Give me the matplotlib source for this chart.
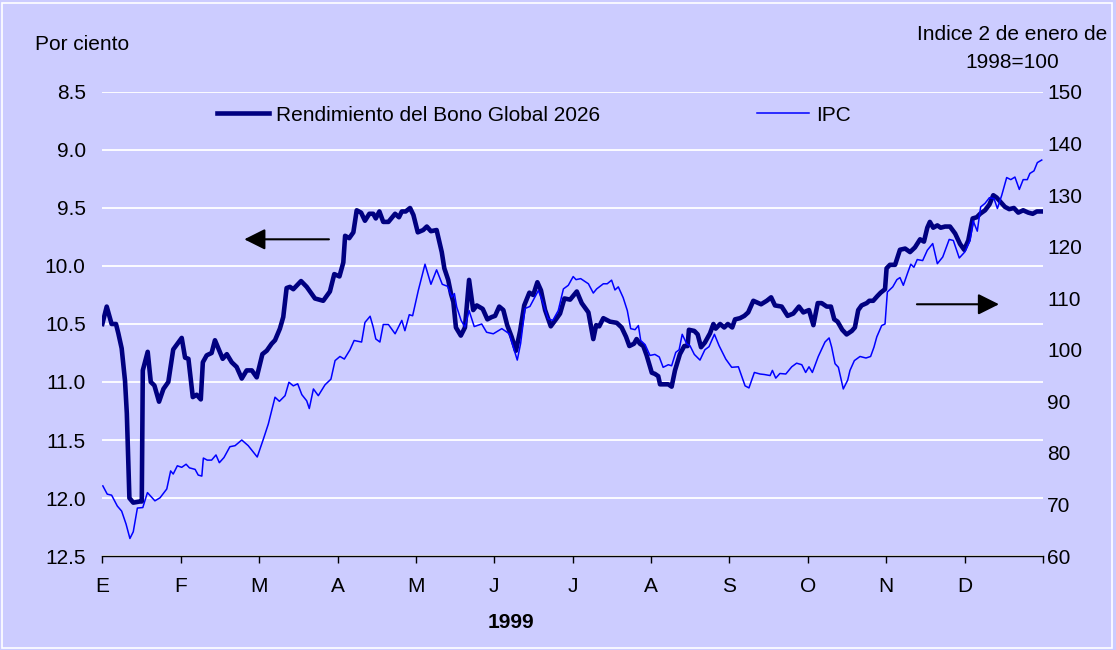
import numpy as np
import matplotlib
matplotlib.use("Agg")
import matplotlib.pyplot as plt
from matplotlib.patches import Rectangle

plt.rcParams['font.family'] = ['Liberation Sans', 'DejaVu Sans']

# day of year 1999 (0 = 1 Jan) and yield of the 2026 global bond, per cent
bono_dias = [0, 1.7, 3.6, 5.3, 6.2, 7.5, 8.8, 9.5, 10.5, 12.0, 14.6, 15.3, 15.7, 17.6,
             18.8, 20.2, 22.0, 23.7, 25.6, 26.5, 27.5, 30.8, 32.1, 33.4, 35.1, 36.6,
             38.2, 39.0, 40.5, 42.4, 43.7, 46.7, 48.3, 50.2, 52.1, 54.1, 56.0, 58.0,
             59.9, 62.1, 63.8, 65.7, 67.0, 68.9, 70.2, 71.5, 72.8, 74.1, 77.1, 79.3,
             82.5, 85.7, 88.3, 90.0, 92.0, 93.5, 94.2, 95.8, 97.4, 98.7, 100.4, 101.9,
             103.6, 105.1, 106.1, 107.5, 109.0, 111.0, 113.6, 115.1, 116.2, 117.7,
             119.4, 120.7, 122.4, 124.5, 125.9, 127.5, 129.7, 131.7, 132.7, 134.2,
             135.3, 136.2, 137.2, 139.1, 140.7, 142.3, 143.9, 145.3, 147.6, 149.4,
             151.1, 152.4, 154.0, 155.6, 157.1, 158.8, 160.5, 162.1, 163.7, 165.7,
             167.2, 168.8, 170.2, 171.8, 174.0, 176.0, 177.6, 179.3, 181.5, 184.1,
             186.0, 188.6, 190.5, 191.6, 192.8, 194.4, 197.0, 199.6, 201.5, 203.2,
             204.5, 206.3, 207.3, 208.6, 209.9, 211.2, 213.2, 214.4, 215.7, 216.4,
             219.6, 220.9, 222.2, 224.1, 225.8, 227.1, 227.6, 229.7, 231.0, 232.3,
             233.8, 235.8, 237.1, 238.0, 239.7, 241.3, 242.7, 244.4, 245.5, 247.4,
             249.1, 250.6, 252.6, 255.6, 257.8, 259.5, 261.0, 263.6, 265.9, 268.1,
             270.3, 272.0, 274.2, 275.9, 277.6, 279.1, 281.1, 282.7, 284.0, 285.3,
             287.1, 288.8, 290.8, 292.0, 293.3, 294.6, 296.6, 297.6, 299.1, 300.7,
             302.0, 303.7, 304.3, 305.6, 307.6, 309.5, 311.5, 313.4, 315.3, 317.3,
             318.8, 320.1, 321.1, 322.4, 324.0, 325.3, 327.0, 328.9, 330.9, 332.8,
             334.4, 336.0, 337.7, 339.3, 340.6, 342.5, 344.2, 345.7, 347.0, 348.6,
             350.2, 351.9, 353.7, 355.4, 357.3, 359.3, 361.0, 362.6, 364.9]
bono = [10.50, 10.35, 10.50, 10.50, 10.58, 10.71, 10.99, 11.27, 12.00, 12.04, 12.03,
        12.03, 10.90, 10.74, 11.00, 11.03, 11.17, 11.06, 11.00, 10.87, 10.72, 10.62,
        10.79, 10.80, 11.13, 11.11, 11.15, 10.83, 10.77, 10.75, 10.64, 10.80, 10.76,
        10.83, 10.87, 10.97, 10.90, 10.90, 10.96, 10.76, 10.73, 10.67, 10.64, 10.54,
        10.44, 10.19, 10.18, 10.20, 10.13, 10.18, 10.28, 10.30, 10.22, 10.07, 10.09,
        9.97, 9.74, 9.76, 9.71, 9.52, 9.54, 9.61, 9.55, 9.55, 9.59, 9.53, 9.62, 9.62,
        9.55, 9.58, 9.53, 9.53, 9.50, 9.56, 9.71, 9.69, 9.66, 9.70, 9.69, 9.88, 10.02,
        10.12, 10.24, 10.31, 10.53, 10.60, 10.53, 10.12, 10.38, 10.34, 10.37, 10.46,
        10.44, 10.43, 10.35, 10.38, 10.51, 10.61, 10.73, 10.56, 10.34, 10.23, 10.25,
        10.14, 10.21, 10.38, 10.52, 10.46, 10.41, 10.28, 10.29, 10.22, 10.32, 10.40,
        10.63, 10.51, 10.52, 10.45, 10.48, 10.49, 10.53, 10.61, 10.69, 10.67, 10.63,
        10.67, 10.69, 10.77, 10.92, 10.93, 10.95, 11.02, 11.02, 11.04, 10.90, 10.76,
        10.69, 10.69, 10.55, 10.56, 10.59, 10.70, 10.66, 10.58, 10.50, 10.54, 10.50,
        10.53, 10.50, 10.53, 10.46, 10.45, 10.43, 10.40, 10.30, 10.33, 10.30, 10.27,
        10.34, 10.35, 10.43, 10.41, 10.35, 10.40, 10.38, 10.51, 10.32, 10.32, 10.35,
        10.35, 10.46, 10.48, 10.55, 10.59, 10.56, 10.53, 10.38, 10.34, 10.32, 10.30,
        10.30, 10.26, 10.23, 10.20, 10.02, 9.99, 9.99, 9.86, 9.85, 9.88, 9.84, 9.77,
        9.79, 9.67, 9.62, 9.67, 9.65, 9.67, 9.66, 9.66, 9.72, 9.81, 9.86, 9.78, 9.59,
        9.58, 9.55, 9.52, 9.47, 9.39, 9.41, 9.45, 9.49, 9.51, 9.50, 9.54, 9.52, 9.54,
        9.55, 9.53, 9.53]

# stock index IPC, 2 Jan 1998 = 100
ipc_dias = [0.2, 1.9, 3.6, 5.8, 7.5, 9.2, 10.7, 12.0, 13.6, 15.7, 17.5, 20.4, 22.4,
            25.0, 26.5, 27.5, 29.1, 30.8, 32.5, 33.8, 36.0, 37.2, 38.6, 39.2, 40.7,
            42.4, 44.1, 45.4, 47.2, 49.5, 51.5, 54.1, 56.6, 60.1, 62.5, 64.4, 67.0,
            68.7, 70.9, 72.4, 74.1, 75.8, 77.4, 79.3, 80.3, 81.9, 83.8, 86.4, 88.7,
            90.3, 92.2, 93.9, 96.1, 97.7, 100.6, 101.9, 103.9, 105.1, 106.1, 107.7,
            109.0, 111.0, 113.6, 116.2, 117.4, 119.1, 120.4, 122.6, 125.2, 127.5,
            129.7, 131.9, 134.0, 135.6, 136.6, 137.5, 139.2, 140.7, 142.3, 144.3,
            147.2, 149.1, 151.7, 155.0, 157.9, 159.5, 161.0, 162.3, 164.0, 165.9,
            169.2, 170.9, 173.0, 174.8, 176.9, 178.9, 180.8, 182.7, 183.8, 185.6,
            188.6, 190.5, 191.8, 194.4, 195.9, 197.6, 198.9, 200.2, 202.1, 203.7,
            205.0, 206.7, 208.0, 208.9, 210.6, 212.5, 214.4, 216.1, 217.6, 219.6,
            220.9, 222.5, 223.8, 225.0, 226.8, 228.0, 229.7, 231.9, 233.8, 235.4,
            237.5, 239.3, 241.9, 244.2, 246.8, 249.4, 250.9, 253.0, 255.2, 256.9,
            259.1, 260.0, 261.3, 262.9, 265.2, 267.5, 269.4, 271.4, 272.9, 274.2,
            275.5, 277.8, 280.4, 282.0, 283.0, 284.3, 285.6, 287.5, 289.2, 290.1,
            291.8, 294.0, 296.3, 298.1, 299.4, 300.5, 302.4, 303.7, 304.6, 306.7,
            308.3, 309.5, 310.8, 312.4, 313.7, 314.9, 316.2, 318.3, 320.1, 322.2,
            324.0, 326.1, 328.6, 330.2, 332.5, 334.7, 336.7, 337.9, 339.5, 340.8,
            342.5, 344.2, 346.0, 347.3, 349.0, 350.9, 352.5, 354.1, 355.8, 357.3,
            358.9, 359.9, 361.5, 362.8, 364.5]
ipc = [73.6, 72.0, 71.8, 69.7, 68.7, 66.2, 63.4, 64.7, 69.3, 69.4, 72.3, 70.7, 71.3,
       73.0, 76.5, 75.9, 77.5, 77.2, 77.8, 77.1, 76.8, 75.7, 75.5, 79.0, 78.6, 78.6,
       79.6, 78.1, 79.1, 81.2, 81.4, 82.5, 81.4, 79.2, 82.7, 85.6, 90.8, 90.0, 91.1,
       93.7, 93.0, 93.4, 91.3, 90.1, 88.6, 92.4, 91.1, 93.2, 94.3, 97.9, 98.7, 98.2,
       100.0, 101.8, 101.5, 105.3, 106.5, 104.4, 102.1, 101.5, 104.9, 104.9, 103.1,
       105.7, 103.7, 106.8, 106.6, 111.5, 116.6, 112.7, 115.5, 112.7, 112.3, 110.2,
       110.9, 108.3, 105.7, 104.4, 107.6, 104.5, 105.0, 103.4, 103.1, 104.1, 103.1,
       100.5, 98.0, 101.2, 108.0, 108.4, 111.5, 109.2, 106.0, 105.7, 107.6, 111.8,
       112.5, 114.2, 113.6, 113.8, 112.8, 111.0, 111.8, 112.8, 112.8, 113.5, 111.6,
       112.2, 110.1, 107.6, 104.1, 103.9, 104.7, 101.8, 101.0, 98.9, 99.1, 98.6, 96.6,
       97.1, 96.9, 99.5, 100.0, 103.0, 101.1, 100.8, 99.1, 98.0, 100.0, 100.6, 103.0,
       100.8, 98.2, 96.6, 96.7, 93.0, 92.6, 95.6, 95.3, 95.2, 95.0, 96.0, 94.5, 95.4,
       95.3, 96.7, 97.4, 97.1, 95.6, 96.7, 95.6, 98.7, 101.5, 102.3, 100.5, 97.3, 96.6,
       92.4, 94.1, 96.0, 97.9, 98.7, 98.4, 98.7, 100.5, 102.5, 104.7, 105.0, 111.2,
       112.2, 113.6, 114.0, 112.5, 114.8, 116.6, 116.0, 117.5, 117.3, 119.3, 120.6,
       116.7, 118.0, 121.4, 121.2, 117.8, 119.0, 121.2, 125.0, 123.0, 127.7, 128.4,
       129.5, 129.3, 127.4, 130.0, 133.4, 133.0, 133.5, 131.1, 133.0, 133.0, 134.2,
       134.7, 136.3, 136.8]

meses = ['E', 'F', 'M', 'A', 'M', 'J', 'J', 'A', 'S', 'O', 'N', 'D', '']

fondo = '#ccccff'
fs = 15

fig = plt.figure(figsize=(11.16, 6.5), dpi=100, facecolor=fondo)
fig.patches.append(Rectangle((0.002, 0.003), 0.994, 0.993, transform=fig.transFigure,
                             fill=False, edgecolor='white', lw=1.2))

ax = fig.add_axes([0.0917, 0.1446, 0.8429, 0.7139])
ax.set_facecolor(fondo)
ax.plot(bono_dias, bono, color='#000080', lw=3.3, solid_joinstyle='round',
        label='Rendimiento del Bono Global 2026')
ax.set_ylim(12.5, 8.5)
ax.set_yticks(np.arange(8.5, 12.51, 0.5))
ax.set_yticklabels(['%.1f' % v for v in np.arange(8.5, 12.51, 0.5)], fontsize=fs)
ax.set_xlim(0, 365)
# months are spaced evenly on the original chart
ax.set_xticks(np.linspace(0, 365, 13))
ax.set_xticklabels(meses, fontsize=fs)
ax.tick_params(axis='y', length=0, pad=12)
ax.tick_params(axis='x', length=5, width=1, direction='out', pad=10)
ax.grid(axis='y', color='white', lw=1.3)
for s in ['left', 'right', 'top']:
    ax.spines[s].set_visible(False)
ax.spines['bottom'].set_linewidth(1)

ax2 = ax.twinx()
ax2.plot(ipc_dias, ipc, color='#0000ff', lw=1.1, label='IPC')
ax2.set_ylim(60, 150)
ax2.set_yticks(np.arange(60, 151, 10))
ax2.tick_params(axis='y', length=0, pad=3, labelsize=fs)
for s in ax2.spines.values():
    s.set_visible(False)

h1, l1 = ax.get_legend_handles_labels()
h2, l2 = ax2.get_legend_handles_labels()
ax.legend(h1 + h2, l1 + l2, ncol=2, frameon=False, fontsize=fs,
          loc='center left', bbox_to_anchor=(0.102, 0.95),
          handlelength=2.5, handletextpad=0.35, columnspacing=7.5)

# arrows to show which axis each series belongs to
ax.annotate('', xy=(54, 9.77), xytext=(89, 9.77),
            arrowprops=dict(arrowstyle='-|>', mutation_scale=32, lw=1.5, color='black'))
ax.annotate('', xy=(349, 10.33), xytext=(315, 10.33),
            arrowprops=dict(arrowstyle='-|>', mutation_scale=32, lw=1.5, color='black'))

fig.text(0.031, 0.931, 'Por ciento', fontsize=fs, ha='left', va='center')
fig.text(0.907, 0.926, 'Indice 2 de enero de\n1998=100', fontsize=fs,
         ha='center', va='center', multialignment='center', linespacing=1.6)
fig.text(0.458, 0.043, '1999', fontsize=fs, fontweight='bold', ha='center', va='center')

fig.savefig('out.png', dpi=100, facecolor=fondo)
